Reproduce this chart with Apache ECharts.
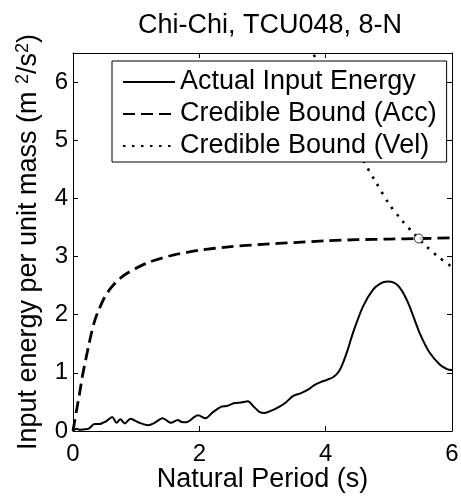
<!DOCTYPE html>
<html>
<head>
<meta charset="utf-8">
<script src="https://cdn.jsdelivr.net/npm/echarts@6/dist/echarts.min.js"></script>
<style>
html,body{margin:0;padding:0;background:#fff;}
#chart{width:461px;height:498px;}
</style>
</head>
<body>
<div id="chart"></div>
<script>
// ---- Data ----
const titleText = 'Chi-Chi, TCU048, 8-N';
const xTickValues = [0, 2, 4, 6];
const yTickValues = [0, 1, 2, 3, 4, 5, 6];

const actualT = [0, 0.05, 0.1, 0.18, 0.25, 0.34, 0.42, 0.47, 0.53, 0.62, 0.69, 0.75, 0.82, 0.91, 1.03, 1.19, 1.29, 1.42, 1.55, 1.66, 1.71, 1.79, 1.98, 2.1, 2.21, 2.35, 2.43, 2.56, 2.66, 2.77, 2.85, 2.95, 3.03, 3.14, 3.27, 3.38, 3.48, 3.61, 3.72, 3.82, 3.92, 4.02, 4.11, 4.2, 4.27, 4.35, 4.43, 4.59, 4.75, 4.87, 4.98, 5.08, 5.17, 5.25, 5.33, 5.49, 5.65, 5.81, 5.93, 6.0];
const actualE = [0.0, 0.04, 0.02, 0.03, 0.04, 0.12, 0.12, 0.14, 0.17, 0.24, 0.14, 0.2, 0.13, 0.21, 0.15, 0.1, 0.14, 0.22, 0.14, 0.19, 0.16, 0.15, 0.27, 0.22, 0.32, 0.42, 0.43, 0.48, 0.49, 0.51, 0.43, 0.33, 0.31, 0.35, 0.42, 0.5, 0.6, 0.65, 0.71, 0.79, 0.84, 0.88, 0.92, 1.01, 1.16, 1.4, 1.68, 2.14, 2.43, 2.54, 2.57, 2.55, 2.47, 2.33, 2.14, 1.68, 1.34, 1.14, 1.06, 1.05];

const accT = [0, 0.05, 0.1, 0.15, 0.2, 0.25, 0.3, 0.35, 0.4, 0.5, 0.6, 0.7, 0.8, 0.9, 1.0, 1.2, 1.4, 1.6, 1.8, 2.0, 2.5, 3.0, 3.5, 4.0, 4.5, 5.0, 5.5, 6.0];
const accE = [0, 0.32, 0.62, 0.95, 1.22, 1.48, 1.72, 1.92, 2.06, 2.3, 2.46, 2.58, 2.67, 2.74, 2.8, 2.9, 2.97, 3.03, 3.07, 3.11, 3.17, 3.21, 3.24, 3.27, 3.29, 3.3, 3.31, 3.32];

const velT = [3.7, 3.8, 4.0, 4.2, 4.4, 4.6, 4.8, 5.0, 5.2, 5.4, 5.6, 5.8, 6.0];
const velE = [6.75, 6.5, 6.05, 5.5, 5.05, 4.64, 4.27, 3.91, 3.63, 3.39, 3.17, 2.98, 2.82];

const crossPoint = [[5.475, 3.31]];

const seriesNames = ['Actual Input Energy', 'Credible Bound (Acc)', 'Credible Bound (Vel)'];

// ---- Build chart ----
const zip = (a, b) => a.map((v, i) => [v, b[i]]);
const FONT = 'Liberation Sans, Arial, sans-serif';
const chart = echarts.init(document.getElementById('chart'), null, {renderer: 'canvas'});

const axisCommon = {
  type: 'value',
  axisLine: {show: true, onZero: false, lineStyle: {color: '#000', width: 1}},
  axisTick: {show: true, inside: true, length: 5, lineStyle: {color: '#000', width: 1}},
  splitLine: {show: false}
};

chart.setOption({
  animation: false,
  backgroundColor: '#fff',
  title: {
    text: titleText,
    left: 265,
    top: 7,
    textAlign: 'center',
    textStyle: {fontFamily: FONT, fontSize: 27, fontWeight: 'normal', color: '#000'}
  },
  grid: {left: 73, right: 9, top: 53, bottom: 67, containLabel: false, outerBoundsMode: 'none'},
  legend: {
    data: seriesNames,
    orient: 'vertical',
    left: 112,
    top: 61,
    itemWidth: 52,
    itemHeight: 14,
    itemGap: 0,
    padding: [5, 10, 0, 10],
    backgroundColor: '#fff',
    borderColor: '#000',
    borderWidth: 1,
    borderRadius: 0,
    itemStyle: {opacity: 0},
    textStyle: {fontFamily: FONT, fontSize: 27, color: '#000', lineHeight: 32}
  },
  xAxis: [
    Object.assign({}, axisCommon, {
      min: 0, max: 6, interval: 2, position: 'bottom',
      name: 'Natural Period (s)', nameLocation: 'middle', nameGap: 35, nameMoveOverlap: false,
      nameTextStyle: {fontFamily: FONT, fontSize: 27, color: '#000'},
      axisLabel: {show: true, color: '#000', fontFamily: FONT, fontSize: 24, margin: 11,
        formatter: v => xTickValues.includes(v) ? String(v) : ''}
    }),
    Object.assign({}, axisCommon, {
      min: 0, max: 6, interval: 2, position: 'top', axisLabel: {show: false}
    })
  ],
  yAxis: [
    Object.assign({}, axisCommon, {
      min: 0, max: 6.5, interval: 1, position: 'left',
      name: 'Input energy per unit mass (m {sup|2}/s{sup|2})',
      nameLocation: 'middle', nameGap: 29, nameRotate: 90, nameMoveOverlap: false,
      nameTextStyle: {fontFamily: FONT, fontSize: 27, color: '#000',
        rich: {sup: {fontFamily: FONT, fontSize: 18, color: '#000', verticalAlign: 'top', lineHeight: 30}}},
      axisLabel: {show: true, color: '#000', fontFamily: FONT, fontSize: 24, margin: 5, showMaxLabel: false,
        formatter: v => yTickValues.includes(v) ? String(v) : ''}
    }),
    Object.assign({}, axisCommon, {
      min: 0, max: 6.5, interval: 1, position: 'right', axisLabel: {show: false}
    })
  ],
  series: [
    {
      name: seriesNames[0], type: 'line', data: zip(actualT, actualE),
      symbol: 'none', smooth: 0.3, clip: true, z: 3,
      lineStyle: {color: '#000', width: 2, type: 'solid'},
      itemStyle: {color: '#000'}
    },
    {
      name: seriesNames[1], type: 'line', data: zip(accT, accE),
      symbol: 'none', smooth: 0.3, clip: true, z: 3,
      lineStyle: {color: '#000', width: 2.8, type: [12, 6]},
      itemStyle: {color: '#000'}
    },
    {
      name: seriesNames[2], type: 'line', data: zip(velT, velE),
      symbol: 'none', smooth: 0.3, clip: true, z: 3,
      lineStyle: {color: '#000', width: 2.6, type: [2.5, 6.5]},
      itemStyle: {color: '#000'}
    },
    {
      name: 'cross', type: 'scatter', data: crossPoint,
      symbol: 'circle', symbolSize: 9, z: 4,
      itemStyle: {color: '#fff', borderColor: '#000', borderWidth: 1}
    }
  ]
});
</script>
</body>
</html>
